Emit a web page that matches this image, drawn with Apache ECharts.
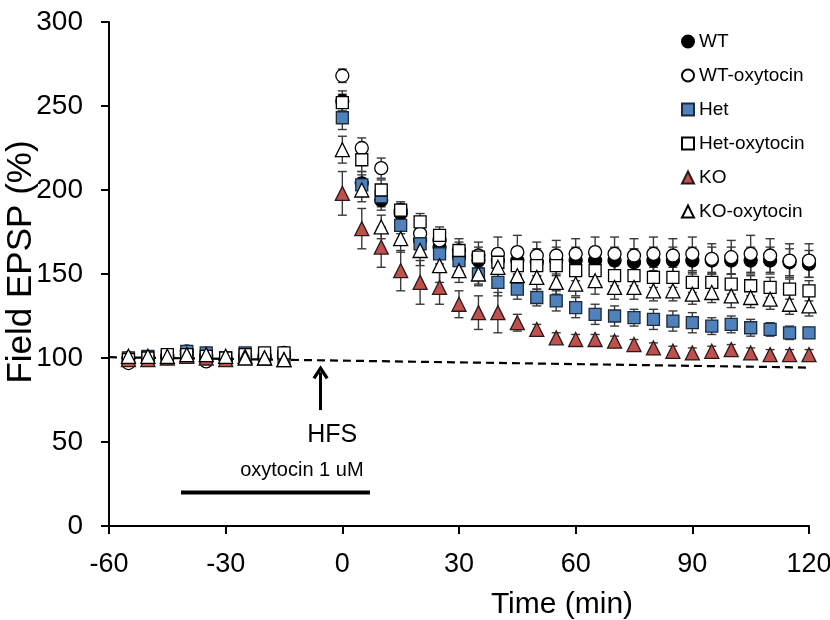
<!DOCTYPE html>
<html><head><meta charset="utf-8">
<script src="https://cdn.jsdelivr.net/npm/echarts@6/dist/echarts.min.js"></script>
<style>html,body{margin:0;padding:0;background:#fff}#c{width:830px;height:620px}</style>
</head><body><div id="c"></div>
<script>
const FONT = '"Liberation Sans", Arial, sans-serif';
const times = [-55,-50,-45,-40,-35,-30,-25,-20,-15,0,5,10,15,20,25,30,35,40,45,50,55,60,65,70,75,80,85,90,95,100,105,110,115,120];
const xTicks = [-60,-30,0,30,60,90,120];
const yTicks = [0,50,100,150,200,250,300];
const names = ['WT','WT-oxytocin','Het','Het-oxytocin','KO','KO-oxytocin'];

const wt      = [100,100,101,102,101,99,101,100,101, 253,204,194,186,170,166,160,158,158,158,157,158,158,158,158,157,158,158,158,158,158,158,158,157,156];
const wtErr   = [2,2,2,2,2,2,2,2,2, 6,7,6,5,5,5,5,6,7,8,8,8,8,8,8,8,8,8,8,8,8,8,8,8,8];
const wtOxy   = [97,100,100,104,98,99,100,101,103, 268,225,213,188,174,170,164,161,162,163,161,161,162,163,162,161,162,161,162,159,160,162,161,158,158];
const wtOxyErr= [2,2,2,2,2,2,2,2,2, 4,6,6,5,6,6,7,8,10,10,8,9,9,9,10,10,10,10,10,9,10,11,10,10,10];
const het     = [100,101,101,104,103,100,103,101,100, 243,203,196,179,168,162,158,150,145,141,136,134,130,126,125,124,123,122,121,119,120,118,117,115,115];
const hetErr  = [2,2,2,2,2,2,2,2,2, 7,6,6,5,5,6,6,6,8,6,5,6,6,6,6,5,6,6,6,5,5,5,4,4,3];
const hetOxy  = [99,100,102,102,101,100,102,103,103, 252,218,200,188,181,173,164,160,157,155,155,155,152,152,149,149,148,148,145,145,144,143,142,141,140];
const hetOxyErr=[2,2,2,2,2,2,2,2,2, 5,7,6,4,5,5,5,6,6,6,6,6,6,6,6,6,6,6,6,6,6,6,6,6,6];
const ko      = [99,99,100,101,100,99,101,100,99, 198,177,166,152,145,142,132,127,127,121,117,112,111,111,110,108,106,104,103,104,105,103,102,102,102];
const koErr   = [2,2,2,2,2,2,2,2,2, 13,12,12,12,13,10,8,10,12,5,3,3,3,3,3,3,3,3,3,3,3,3,3,3,3];
const koOxy   = [101,101,101,102,102,101,100,100,99, 224,200,178,171,164,155,152,150,154,149,148,145,144,146,142,142,140,140,138,139,137,136,135,132,131];
const koOxyErr= [2,2,2,2,2,2,2,2,2, 8,7,7,8,9,10,7,7,9,7,7,7,7,8,7,7,6,6,6,6,7,6,6,6,6];

const baseline = [[-60,100.5],[120,94.3]];
const hfsArrow = [[-5.6,69],[-5.6,91.5]];
const hfsLabel = [-2.6,54];
const oxyBar = [[-41.5,20],[7.1,20]];
const oxyLabel = [-10.4,33];

const groups = [
  {name:'WT', vals:wt, errs:wtErr, symbol:'circle', size:13, color:'#000000', border:'#000000'},
  {name:'WT-oxytocin', vals:wtOxy, errs:wtOxyErr, symbol:'circle', size:13, color:'#ffffff', border:'#000000'},
  {name:'Het', vals:het, errs:hetErr, symbol:'rect', size:12, color:'#4F81BD', border:'#1d2a3a'},
  {name:'Het-oxytocin', vals:hetOxy, errs:hetOxyErr, symbol:'rect', size:12, color:'#ffffff', border:'#000000'},
  {name:'KO', vals:ko, errs:koErr, symbol:'triangle', size:14, color:'#C0504D', border:'#2a1a1a'},
  {name:'KO-oxytocin', vals:koOxy, errs:koOxyErr, symbol:'triangle', size:14, color:'#ffffff', border:'#000000'}
];

function errRender(params, api){
  const x = api.value(0);
  const lo = api.coord([x, api.value(1)]);
  const hi = api.coord([x, api.value(2)]);
  const w = 4.5;
  const st = {stroke:'#3a3a3a', lineWidth:1.4};
  return {type:'group', children:[
    {type:'line', shape:{x1:lo[0],y1:lo[1],x2:hi[0],y2:hi[1]}, style:st},
    {type:'line', shape:{x1:lo[0]-w,y1:lo[1],x2:lo[0]+w,y2:lo[1]}, style:st},
    {type:'line', shape:{x1:hi[0]-w,y1:hi[1],x2:hi[0]+w,y2:hi[1]}, style:st}
  ]};
}

const series = [];
groups.forEach(g => {
  series.push({
    type:'custom', silent:true, z:1,
    renderItem: errRender,
    encode:{x:0, y:[1,2]},
    data: times.map((t,i)=>[t, g.vals[i]-g.errs[i], g.vals[i]+g.errs[i]])
  });
});
groups.forEach((g,k) => {
  series.push({
    type:'scatter', name:g.name, z:3+k,
    symbol:g.symbol, symbolSize:g.size,
    itemStyle:{color:g.color, borderColor:g.border, borderWidth:1.3, opacity:1},
    data: times.map((t,i)=>[t, g.vals[i]])
  });
});
series.push({
  type:'line', silent:true, z:2, symbol:'none',
  lineStyle:{color:'#000', width:2.2, type:[8,5]},
  data: baseline,
  markLine:{
    silent:true,
    symbol:['none','path://M0,13 L10,0 L20,13 L16.5,15 L10,6.5 L3.5,15 Z'],
    symbolSize:[16,14],
    lineStyle:{color:'#000', width:3, type:'solid'},
    label:{show:false},
    data:[[{coord:hfsArrow[0]},{coord:hfsArrow[1]}]]
  }
});
series.push({
  type:'line', silent:true, z:2, symbol:'none',
  lineStyle:{color:'#000', width:4},
  data: oxyBar
});
const txtLabel = (text, size) => ({show:true, position:'inside', color:'#000', opacity:1,
  textBorderWidth:0, textShadowBlur:0, fontSize:size, fontFamily:FONT, formatter:text});
series.push({
  type:'scatter', silent:true, z:2, symbolSize:1, itemStyle:{color:'rgba(0,0,0,0)', opacity:1},
  label:txtLabel('HFS', 25), data:[hfsLabel]
});
series.push({
  type:'scatter', silent:true, z:2, symbolSize:1, itemStyle:{color:'rgba(0,0,0,0)', opacity:1},
  label:txtLabel('oxytocin 1 uM', 20), data:[oxyLabel]
});

const chart = echarts.init(document.getElementById('c'), null, {renderer:'canvas'});
chart.setOption({
  animation:false,
  backgroundColor:'#fff',
  grid:{left:109, right:21, top:22, bottom:94, containLabel:false, outerBoundsMode:'none'},
  legend:{
    orient:'vertical', left:681, top:32, padding:0, itemGap:15,
    itemWidth:12, itemHeight:12, data:names,
    textStyle:{fontSize:19, color:'#000', fontFamily:FONT}
  },
  xAxis:{
    type:'value', min:xTicks[0], max:xTicks[xTicks.length-1], interval:30,
    name:'Time (min)', nameLocation:'middle', nameGap:64, nameMoveOverlap:false,
    nameTextStyle:{fontSize:30, color:'#000', fontFamily:FONT, padding:[0,0,0,206]},
    axisLine:{show:true, onZero:false, lineStyle:{color:'#000', width:2}},
    axisTick:{show:true, length:8, lineStyle:{color:'#000', width:2}},
    axisLabel:{fontSize:27, color:'#000', fontFamily:FONT, margin:25},
    splitLine:{show:false}
  },
  yAxis:{
    type:'value', min:yTicks[0], max:yTicks[yTicks.length-1], interval:50,
    name:'Field EPSP (%)', nameLocation:'middle', nameGap:70, nameMoveOverlap:false,
    nameTextStyle:{fontSize:35, color:'#000', fontFamily:FONT, padding:[0,0,0,24]},
    axisLine:{show:true, onZero:false, lineStyle:{color:'#000', width:2}},
    axisTick:{show:true, length:8, lineStyle:{color:'#000', width:2}},
    axisLabel:{fontSize:28, color:'#000', fontFamily:FONT, margin:26},
    splitLine:{show:false}
  },
  series: series
});
</script></body></html>
